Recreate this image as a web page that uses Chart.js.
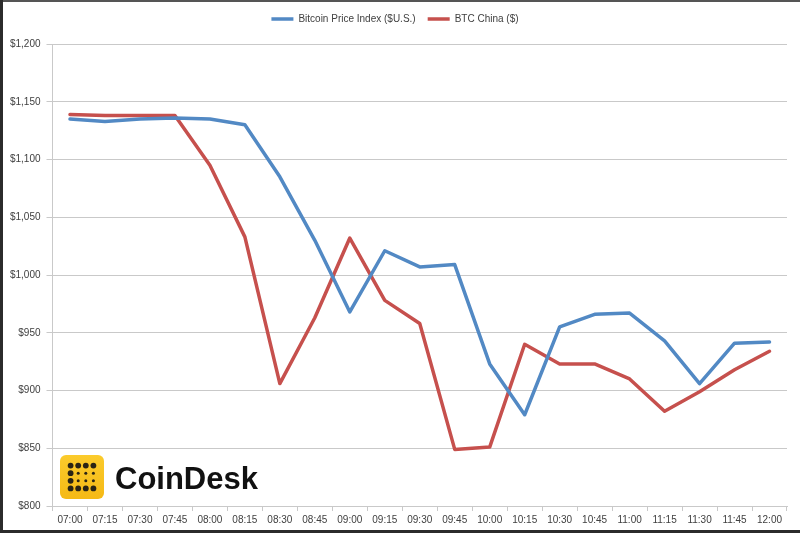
<!DOCTYPE html>
<html>
<head>
<meta charset="utf-8">
<script src="https://cdn.jsdelivr.net/npm/chart.js@4"></script>
<style>
html,body{margin:0;padding:0;background:#fff}
#wrap{position:relative;width:800px;height:533px}
</style>
</head>
<body>
<div id="wrap"><canvas id="chart" width="800" height="533"></canvas></div>
<script>
const times=["07:00","07:15","07:30","07:45","08:00","08:15","08:30","08:45","09:00","09:15","09:30","09:45","10:00","10:15","10:30","10:45","11:00","11:15","11:30","11:45","12:00"]
const bpi=[1135,1133,1135,1136,1135,1130,1085,1030,968,1021,1007,1009,923,879,955,966,967,943,906,941,942]
const btcChina=[1139,1138,1138,1138,1095,1033,906,963,1032,978,958,849,851,940,923,923,910,882,899,918,934]
const seriesNames=["Bitcoin Price Index ($U.S.)","BTC China ($)"]
const yMin=800
const yMax=1200
const yStep=50

const blue="#5289c4"
const red="#c6504d"
const textColor="#404040"
const gridColor="#c9c9c9"

// push the plot area down a bit below the legend
const legendGap={
id:"legendGap",
beforeInit(chart){
const fit=chart.legend.fit
chart.legend.fit=function(){
fit.bind(chart.legend)()
this.height+=10
}
}
}

// frame + CoinDesk logo
const extras={
id:"extras",
beforeDraw(chart){
const c=chart.ctx
c.save()
c.fillStyle="#fff"
c.fillRect(0,0,chart.width,chart.height)
c.restore()
},
afterDraw(chart){
const c=chart.ctx
c.save()
// logo box
const x=60,y=455,s=44,r=6
const g=c.createLinearGradient(0,y,0,y+s)
g.addColorStop(0,"#fbcb2c")
g.addColorStop(1,"#f5b915")
c.fillStyle=g
c.beginPath()
c.roundRect(x,y,s,s,r)
c.fill()
c.fillStyle="#2a2415"
const step=7.6
const ox=x+10.6,oy=y+10.6
for(let row=0;row<4;row++){
for(let col=0;col<4;col++){
let big=row===0||row===3||col===0
let rad=big?2.9:1.5
c.beginPath()
c.arc(ox+col*step,oy+row*step,rad,0,Math.PI*2)
c.fill()
}
}
c.fillStyle="#111"
c.font="bold 31px 'Liberation Sans', Arial, sans-serif"
c.textBaseline="alphabetic"
c.fillText("CoinDesk",115,489)
// frame
c.fillStyle="#555"
c.fillRect(0,0,chart.width,2)
c.fillStyle="#2b2b2b"
c.fillRect(0,0,3,chart.height)
c.fillRect(0,chart.height-3,chart.width,3)
c.restore()
}
}

function money(v){
return "$"+v.toLocaleString("en-US")
}

new Chart(document.getElementById("chart"),{
type:"line",
data:{
labels:times,
datasets:[{
label:seriesNames[0],
data:bpi,
borderColor:blue,
backgroundColor:blue,
borderWidth:3.5,
borderCapStyle:"round",
borderJoinStyle:"round",
pointRadius:0,
tension:0
},{
label:seriesNames[1],
data:btcChina,
borderColor:red,
backgroundColor:red,
borderWidth:3.5,
borderCapStyle:"round",
borderJoinStyle:"round",
pointRadius:0,
tension:0
}]
},
options:{
responsive:false,
animation:false,
devicePixelRatio:1,
layout:{padding:{top:2,left:3,right:13,bottom:3}},
plugins:{
legend:{
position:"top",
labels:{
color:textColor,
font:{family:"'Liberation Sans', Arial, sans-serif",size:10},
usePointStyle:true,
pointStyle:"line",
pointStyleWidth:22,
boxWidth:22,
boxHeight:10,
padding:12
}
},
tooltip:{enabled:false}
},
scales:{
x:{
offset:true,
grid:{
display:true,
offset:true,
drawOnChartArea:false,
drawTicks:true,
tickLength:5,
color:gridColor
},
border:{color:gridColor,width:1},
ticks:{
color:textColor,
font:{family:"'Liberation Sans', Arial, sans-serif",size:10},
padding:3,
maxRotation:0,
autoSkip:false
},
afterFit(s){s.height=24}
},
y:{
min:yMin,
max:yMax,
grid:{color:gridColor,tickLength:6,lineWidth:1},
border:{color:gridColor,width:1},
ticks:{
stepSize:yStep,
color:textColor,
padding:6,
font:{family:"'Liberation Sans', Arial, sans-serif",size:10},
callback:v=>money(v)
},
afterFit(s){s.width=49.5}
}
}
},
plugins:[legendGap,extras]
})
</script>
</body>
</html>
